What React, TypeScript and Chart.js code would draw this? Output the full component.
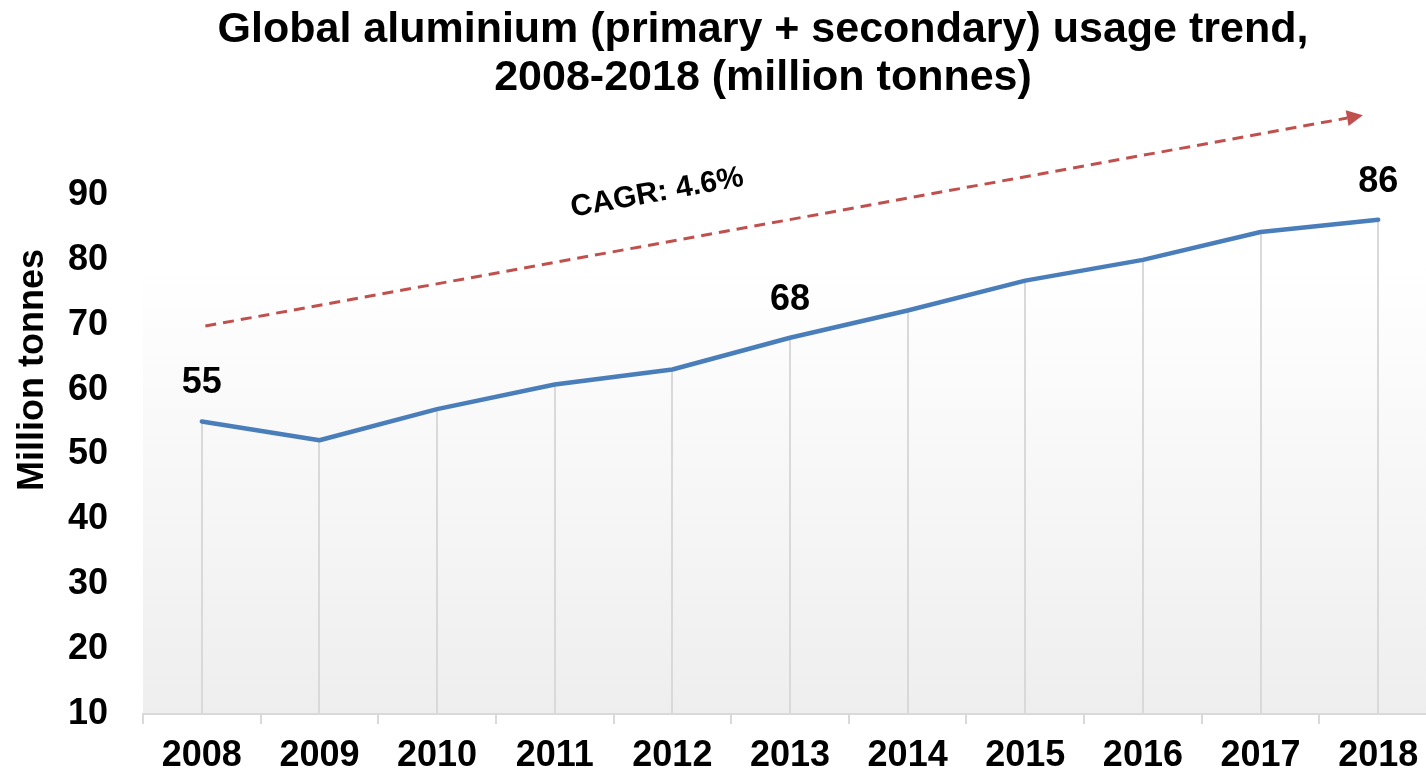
import { useEffect, useRef } from 'react';
import { Chart, registerables } from 'chart.js';

Chart.register(...registerables);

const categories = ['2008', '2009', '2010', '2011', '2012', '2013', '2014', '2015', '2016', '2017', '2018'];
const usage = [55.1, 52.2, 57.0, 60.8, 63.1, 68.0, 72.2, 76.8, 80.0, 84.3, 86.2];
const valueLabels = ['55', '', '', '', '', '68', '', '', '', '', '86'];
const yMin = 10;
const yMax = 90;
const yStep = 10;
const titleLines = ['Global aluminium (primary + secondary) usage trend,', '2008-2018 (million tonnes)'];
const yTitle = 'Million tonnes';
const cagrText = 'CAGR: 4.6%';
// trend arrow endpoints in data space: [category index, value]
const trendStart = [0.03, 69.8];
const trendEnd = [9.87, 102.3];
const cagrAnchor = [3.87, 90.3];

const FONT = '"Liberation Sans", Arial, sans-serif';

export default function App() {
  const ref = useRef<HTMLCanvasElement>(null);
  useEffect(() => {
    document.body.style.margin = '0';
    const decor = {
      id: 'decor',
      beforeDraw(chart: any) {
        const { ctx, chartArea } = chart;
        const top = 261;
        const g = ctx.createLinearGradient(0, top, 0, chartArea.bottom);
        g.addColorStop(0, '#ffffff');
        g.addColorStop(1, '#eeeeee');
        ctx.save();
        ctx.fillStyle = g;
        ctx.fillRect(chartArea.left, top, chart.width - chartArea.left, chartArea.bottom - top);
        ctx.restore();
      },
      beforeDatasetsDraw(chart: any) {
        const { ctx, chartArea } = chart;
        const meta = chart.getDatasetMeta(0);
        ctx.save();
        ctx.strokeStyle = '#d9d9d9';
        ctx.lineWidth = 2;
        meta.data.forEach((pt: any) => {
          ctx.beginPath();
          ctx.moveTo(Math.round(pt.x), chartArea.bottom);
          ctx.lineTo(Math.round(pt.x), pt.y);
          ctx.stroke();
        });
        ctx.restore();
      },
      afterDraw(chart: any) {
        const { ctx } = chart;
        const xs = chart.scales.x;
        const ys = chart.scales.y;
        const meta = chart.getDatasetMeta(0);
        ctx.save();
        // value labels
        ctx.fillStyle = '#000';
        ctx.font = `bold 36px ${FONT}`;
        ctx.textAlign = 'center';
        ctx.textBaseline = 'middle';
        meta.data.forEach((pt: any, i: number) => {
          if (valueLabels[i]) ctx.fillText(valueLabels[i], pt.x, pt.y - 38);
        });
        // title
        ctx.font = `bold 43px ${FONT}`;
        ctx.fillText(titleLines[0], 763, 30);
        ctx.fillText(titleLines[1], 763, 78);
        // y title
        ctx.save();
        ctx.translate(33, 370);
        ctx.rotate(-Math.PI / 2);
        ctx.font = `bold 36px ${FONT}`;
        ctx.fillText(yTitle, 0, 0);
        ctx.restore();
        // trend arrow
        const x1 = xs.getPixelForValue(trendStart[0]);
        const y1 = ys.getPixelForValue(trendStart[1]);
        const x2 = xs.getPixelForValue(trendEnd[0]);
        const y2 = ys.getPixelForValue(trendEnd[1]);
        const ang = Math.atan2(y2 - y1, x2 - x1);
        const headLen = 16;
        const headW = 8;
        const bx = x2 - headLen * Math.cos(ang);
        const by = y2 - headLen * Math.sin(ang);
        ctx.strokeStyle = '#c0504d';
        ctx.fillStyle = '#c0504d';
        ctx.lineWidth = 3;
        ctx.setLineDash([11, 7]);
        ctx.beginPath();
        ctx.moveTo(x1, y1);
        ctx.lineTo(bx, by);
        ctx.stroke();
        ctx.setLineDash([]);
        ctx.beginPath();
        ctx.moveTo(x2, y2);
        ctx.lineTo(bx + headW * Math.sin(ang), by - headW * Math.cos(ang));
        ctx.lineTo(bx - headW * Math.sin(ang), by + headW * Math.cos(ang));
        ctx.closePath();
        ctx.fill();
        // CAGR text
        const cx = xs.getPixelForValue(cagrAnchor[0]);
        const cy = ys.getPixelForValue(cagrAnchor[1]);
        ctx.translate(cx, cy);
        ctx.rotate(ang);
        ctx.fillStyle = '#000';
        ctx.font = `bold 30px ${FONT}`;
        ctx.fillText(cagrText, 0, 0);
        ctx.restore();
      },
    };
    const chart = new Chart(ref.current!, {
      type: 'line',
      data: {
        labels: categories,
        datasets: [
          {
            data: usage,
            borderColor: '#4a7ebb',
            borderWidth: 4.5,
            pointRadius: 0,
            tension: 0,
            fill: false,
            borderCapStyle: 'round',
            borderJoinStyle: 'round',
          },
        ],
      },
      options: {
        responsive: false,
        animation: false,
        devicePixelRatio: 1,
        layout: { padding: { top: 195, right: 0, left: 0, bottom: 0 } },
        plugins: { legend: { display: false }, tooltip: { enabled: false }, title: { display: false } },
        scales: {
          x: {
            type: 'category',
            offset: true,
            grid: {
              offset: true,
              drawOnChartArea: false,
              drawTicks: true,
              tickLength: 10,
              color: '#d9d9d9',
              lineWidth: 2,
            },
            border: { display: true, color: '#d9d9d9', width: 2 },
            ticks: {
              color: '#000',
              font: { family: FONT, size: 36, weight: 'bold' },
              padding: 10,
              maxRotation: 0,
              autoSkip: false,
            },
            afterFit(scale: any) {
              scale.height = 62;
            },
          },
          y: {
            min: yMin,
            max: yMax,
            grid: { display: false, drawTicks: false },
            border: { display: false },
            ticks: {
              stepSize: yStep,
              color: '#000',
              font: { family: FONT, size: 36, weight: 'bold' },
              padding: 35,
            },
            afterFit(scale: any) {
              scale.width = 143;
            },
          },
        },
      },
      plugins: [decor],
    } as any);
    return () => chart.destroy();
  }, []);
  return (
    <div style={{ width: 1426, height: 776, overflow: 'hidden' }}>
      <canvas ref={ref} width={1437} height={776} style={{ display: 'block' }} />
    </div>
  );
}
